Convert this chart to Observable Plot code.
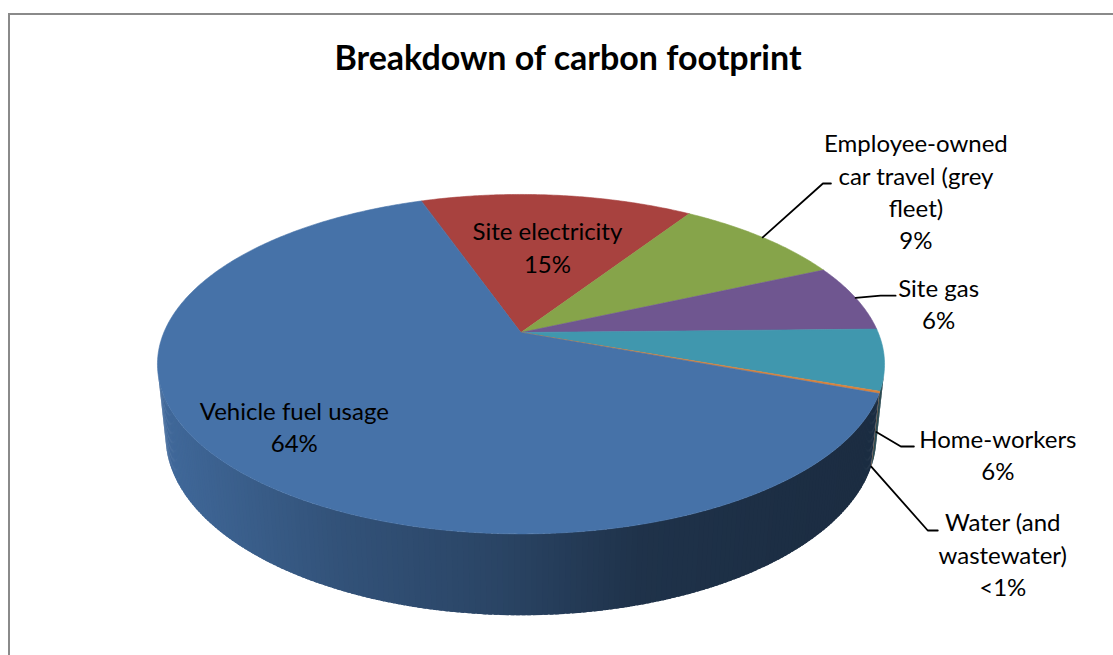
<!DOCTYPE html>
<html>
<head>
<meta charset="utf-8">
<script src="https://cdn.jsdelivr.net/npm/d3@7"></script>
<script src="https://cdn.jsdelivr.net/npm/@observablehq/plot@0.6"></script>
<style>
  html, body { margin: 0; padding: 0; background: #fff; }
  #chart svg { display: block; }
</style>
</head>
<body>
<div id="chart"></div>
<script>
// ---- Data -------------------------------------------------------------
const title = "Breakdown of carbon footprint";
const categories = [
  "Site electricity",
  "Employee-owned car travel (grey fleet)",
  "Site gas",
  "Home-workers",
  "Water (and wastewater)",
  "Vehicle fuel usage"
];
// share of total footprint, percent (slices run clockwise in this order)
const shares = [14.5, 9.1, 6.4, 5.8, 0.2, 64.0];
const labelNames = [
  "Site electricity",
  "Employee-owned\ncar travel (grey\nfleet)",
  "Site gas",
  "Home-workers",
  "Water (and\nwastewater)",
  "Vehicle fuel usage"
];

// ---- Styling ----------------------------------------------------------
const topColors = ["#A8423F", "#86A44A", "#6F5690", "#4097AE", "#D9823B", "#4672A8"];
const firstSliceAngle = 340.8;            // degrees clockwise from 12 o'clock
const view = {cx: 520.5, cy: 332, focal: 1700, dist: 4.76, tilt: 27.3, depth: 0.228};
// side-wall lighting: brightness factor across the pie's width
const wallLight = d3.scaleLinear()
  .domain([0, 0.25, 0.47, 0.66, 0.88, 1])
  .range([0.93, 0.72, 0.60, 0.44, 0.40, 0.39])
  .clamp(true);

// label placement (inside labels: along the mid-angle; outside: leader elbow + text offset)
const insideSpots = {
  "Site electricity": {turn: 1.1, radius: 0.59},
  "Vehicle fuel usage": {turn: 2.6, radius: 0.77}
};
const outsideSpots = {
  "Employee-owned car travel (grey fleet)": {angle: 42.9, radius: 1.496, tail: 8, dx: 85, dy: 7},
  "Site gas": {angle: 77.4, radius: 1.077, tail: 15, dx: 43, dy: 7},
  "Home-workers": {angle: 123.2, radius: 1.125, tail: 13, dx: 84, dy: 7},
  "Water (and wastewater)": {angle: 136.7, radius: 1.355, tail: 10, dx: 65, dy: 23}
};

// ---- Geometry: perspective view of a tilted disc ----------------------
const rad = Math.PI / 180;
const sT = Math.sin(view.tilt * rad), cT = Math.cos(view.tilt * rad);
function project(deg, r, z) {
  const px = r * Math.sin(deg * rad), py = r * Math.cos(deg * rad);
  const up = py * sT + z * cT;
  const d = py * cT - z * sT + view.dist;
  return [view.cx + view.focal * px / d, view.cy - view.focal * up / d];
}

const total = d3.sum(shares);
let acc = firstSliceAngle;
const slices = categories.map((name, i) => {
  const span = shares[i] / total * 360;
  const s = {name, i, value: shares[i], start: acc, end: acc + span, mid: acc + span / 2, color: topColors[i]};
  acc += span;
  return s;
});

// visible part of the cylinder wall
const vLimit = -1 / (view.dist * cT);
const visFrom = Math.acos(vLimit) / rad;        // ~103.7
const visTo = 360 - visFrom;                    // ~256.3

// horizontal extent for the lighting ramp
const rimX = d3.range(0, 360, 0.5).map(a => project(a, 1, 0)[0]);
const [xMin, xMax] = d3.extent(rimX);

function shade(hex, k) {
  const c = d3.rgb(hex);
  return d3.rgb(c.r * k, c.g * k, c.b * k).formatHex();
}

// wall strips overlap a little so no seams show between them
const wallPts = [];
for (const s of slices) {
  for (const shift of [-360, 0, 360]) {
    const a0 = Math.max(s.start + shift, visFrom), a1 = Math.min(s.end + shift, visTo);
    if (a1 <= a0) continue;
    for (let a = a0; a < a1; a += 0.75) {
      const b = Math.min(a + 0.75, a1);
      const bOver = Math.min(b + 0.5, a1);
      const id = `wall-${s.i}-${shift}-${a.toFixed(2)}`;
      const xm = project((a + b) / 2, 1, -view.depth)[0];
      const fill = shade(s.color, wallLight((xm - xMin) / (xMax - xMin)));
      const steps = [[a, 0], [bOver, 0], [bOver, -view.depth], [a, -view.depth]];
      for (const [ang, z] of steps) {
        const [x, y] = project(ang, 1, z);
        wallPts.push({id, x, y, fill});
      }
    }
  }
}

const topPts = [];
for (const s of slices) {
  const id = `top-${s.i}`;
  const [ax, ay] = project(0, 0, 0);
  topPts.push({id, x: ax, y: ay, fill: s.color});
  const n = Math.max(2, Math.ceil((s.end - s.start) / 0.5));
  for (let k = 0; k <= n; k++) {
    const [x, y] = project(s.start + (s.end - s.start) * k / n, 1, 0);
    topPts.push({id, x, y, fill: s.color});
  }
}

// ---- Labels and leader lines ------------------------------------------
const pct = v => v < 1 ? "<1%" : `${Math.round(v)}%`;
const labels = [];
const leaderPts = [];
for (const s of slices) {
  const text = `${labelNames[s.i]}\n${pct(s.value)}`;
  if (insideSpots[s.name]) {
    const sp = insideSpots[s.name];
    const [x, y] = project(s.mid + sp.turn, sp.radius, 0);
    labels.push({x, y, text});
  } else {
    const sp = outsideSpots[s.name];
    const midDeg = ((s.mid % 360) + 360) % 360;
    const zEdge = Math.cos(midDeg * rad) >= 0 ? 0 : -view.depth;
    const p0 = project(midDeg, 1, zEdge);
    const p1 = project(sp.angle, sp.radius, 0);
    const p2 = [p1[0] + sp.tail, p1[1]];
    for (const [x, y] of [p0, p1, p2]) leaderPts.push({id: s.name, x, y});
    labels.push({x: p2[0] + sp.dx, y: p2[1] + sp.dy, text});
  }
}

// ---- Chart -------------------------------------------------------------
const chart = Plot.plot({
  width: 1113,
  height: 655,
  margin: 0,
  x: {domain: [0, 1113], range: [0, 1113], axis: null},
  y: {domain: [0, 655], range: [0, 655], axis: null},
  color: {type: "identity"},
  style: {fontFamily: "Lato, 'Open Sans', sans-serif", background: "#fff", color: "#000"},
  marks: [
    Plot.frame({stroke: "#8a8a8a", strokeWidth: 2, insetLeft: 8.5, insetTop: 13.5, insetRight: -10, insetBottom: -10}),
    Plot.line(wallPts, {x: "x", y: "y", z: "id", fill: "fill", stroke: "none", curve: "linear-closed"}),
    Plot.line(topPts, {x: "x", y: "y", z: "id", fill: "fill", stroke: "fill", strokeWidth: 0.6, curve: "linear-closed"}),
    Plot.line(leaderPts, {x: "x", y: "y", z: "id", stroke: "#000", strokeWidth: 1.8}),
    Plot.text(labels, {x: "x", y: "y", text: "text", fontSize: 24, lineHeight: 1.35, lineAnchor: "middle", textAnchor: "middle", fill: "#000"}),
    Plot.text([title], {frameAnchor: "top", dx: 11, dy: 59, fontSize: 34, fontWeight: "bold", lineAnchor: "middle", fill: "#000"})
  ]
});
document.getElementById("chart").appendChild(chart);
</script>
</body>
</html>
